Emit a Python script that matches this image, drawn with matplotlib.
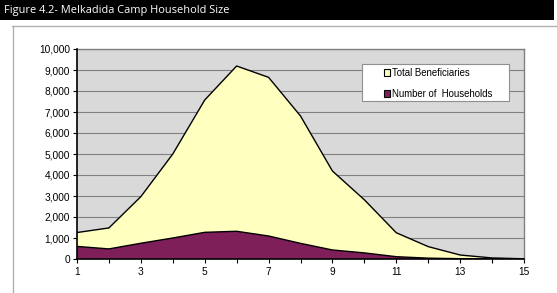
import matplotlib
matplotlib.use("Agg")
import matplotlib.pyplot as plt
from matplotlib.patches import Rectangle
from matplotlib.lines import Line2D

household_size = [1, 2, 3, 4, 5, 6, 7, 8, 9, 10, 11, 12, 13, 14, 15]
total_beneficiaries = [1260, 1480, 2970, 5000, 7570, 9190, 8650, 6810, 4190, 2820, 1250, 590, 190, 50, 10]
number_households = [600, 480, 750, 1000, 1270, 1320, 1095, 745, 430, 290, 110, 40, 15, 5, 2]
y_ticks = [0, 1000, 2000, 3000, 4000, 5000, 6000, 7000, 8000, 9000, 10000]
x_tick_labels = [1, 3, 5, 7, 9, 11, 13, 15]
title = "Figure 4.2- Melkadida Camp Household Size"

W, H = 557, 293
fig = plt.figure(figsize=(W / 100, H / 100), dpi=100)
fig.patch.set_facecolor("white")

# title bar
fig.patches.append(Rectangle((0, 1 - 19.5 / H), 554 / W, 19.5 / H, transform=fig.transFigure,
                             facecolor="black", edgecolor="none", zorder=0))
fig.text(4 / W, 1 - 11 / H, title, color="white", fontsize=7.9, family="Open Sans",
         va="center", ha="left")
# outer border lines
fig.add_artist(Line2D([12 / W, 1], [1 - 25.5 / H, 1 - 25.5 / H], transform=fig.transFigure,
                      color="#b0b0b0", lw=1.0))
fig.add_artist(Line2D([12.5 / W, 12.5 / W], [0, 1 - 25.5 / H], transform=fig.transFigure,
                      color="#b0b0b0", lw=1.0))

left, right, top, bottom = 77, 524, 49, 259
ax = fig.add_axes([left / W, 1 - bottom / H, (right - left) / W, (bottom - top) / H])
ax.set_facecolor("#d9d9d9")

ax.fill_between(household_size, total_beneficiaries, 0, facecolor="#ffffc0", edgecolor="none", zorder=2)
ax.plot(household_size, total_beneficiaries, color="black", lw=1.0, zorder=3)
ax.fill_between(household_size, number_households, 0, facecolor="#7f1f5a", edgecolor="none", zorder=4)
ax.plot(household_size, number_households, color="black", lw=1.0, zorder=5)

ax.set_xlim(1, 15)
ax.set_ylim(0, 10000)
ax.set_yticks(y_ticks)
ax.set_yticklabels([f"{v:,}" for v in y_ticks], fontsize=7.3, family="Liberation Sans")
ax.set_xticks(household_size)
ax.set_xticklabels([str(v) if v in x_tick_labels else "" for v in household_size],
                   fontsize=7.3, family="Liberation Sans")
ax.yaxis.grid(True, color="#808080", lw=0.8, zorder=1)
ax.set_axisbelow(True)
ax.tick_params(axis="y", length=3, width=0.8, pad=2, direction="out")
ax.tick_params(axis="x", length=3, width=0.8, pad=3, direction="out")
for s in ["top", "right"]:
    ax.spines[s].set_color("#808080")
    ax.spines[s].set_linewidth(1.0)
for s in ["left", "bottom"]:
    ax.spines[s].set_color("black")
    ax.spines[s].set_linewidth(1.2)
    ax.spines[s].set_zorder(6)

# legend frame (drawn separately, in pixel-based figure coords)
lx0, lx1, ly0, ly1 = 362, 509, 64, 101
fig.patches.append(Rectangle((lx0 / W, 1 - ly1 / H), (lx1 - lx0) / W, (ly1 - ly0) / H,
                             transform=fig.transFigure, facecolor="white",
                             edgecolor="#909090", lw=0.8, zorder=9))

handles = [Rectangle((0, 0), 1, 1, facecolor="#ffffc0", edgecolor="black", lw=0.8),
           Rectangle((0, 0), 1, 1, facecolor="#7f1f5a", edgecolor="black", lw=0.8)]
leg = fig.legend(handles, ["Total Beneficiaries", "Number of  Households"],
                 loc="upper left", bbox_to_anchor=(381 / W, 1 - 65 / H),
                 bbox_transform=fig.transFigure,
                 prop={"family": "Liberation Sans", "size": 6.9}, frameon=False,
                 handlelength=0.6, handleheight=0.6, handletextpad=0.25, borderpad=0.3,
                 labelspacing=1.15, borderaxespad=0)
leg.set_zorder(10)

fig.savefig("out.png", dpi=100, facecolor=fig.get_facecolor())
